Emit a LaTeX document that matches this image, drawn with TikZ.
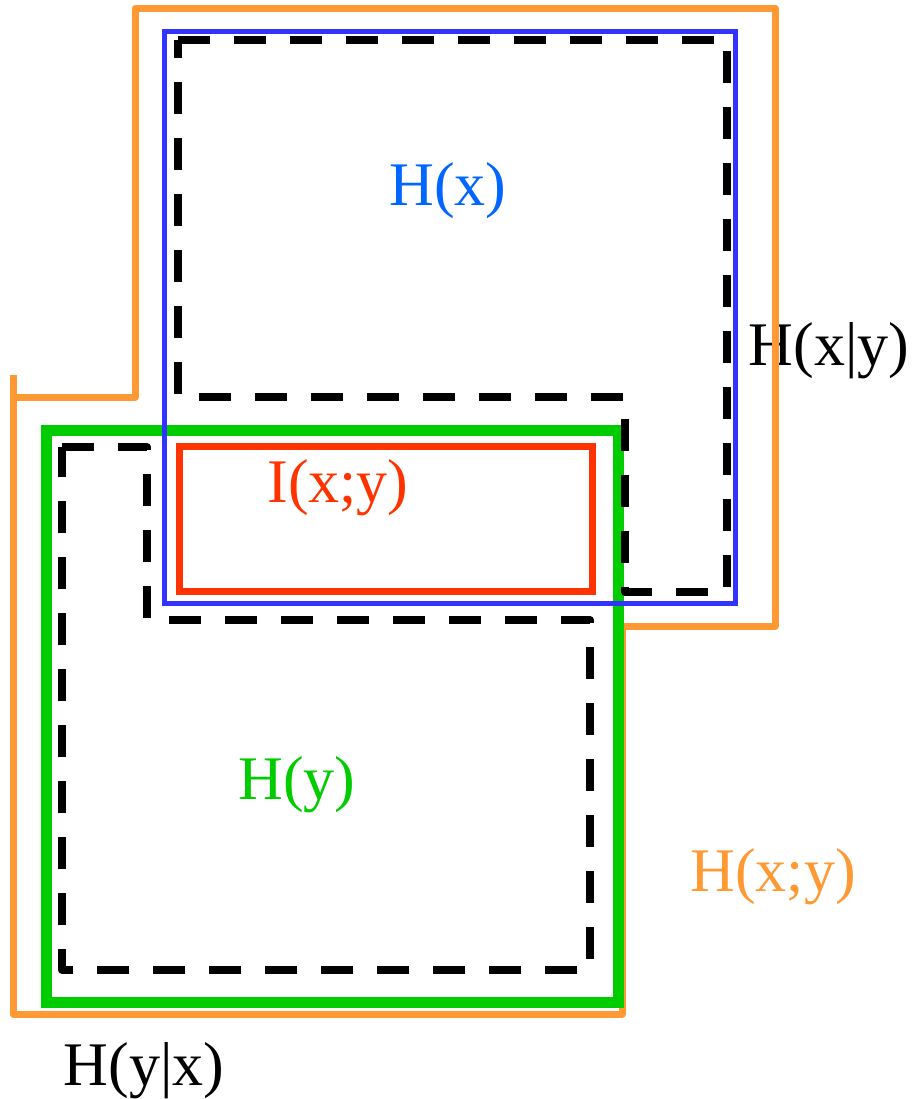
\documentclass[tikz,border=0pt]{standalone}
\usepackage{fontspec}
\setmainfont{Liberation Serif}
\usepackage{xcolor}
\usetikzlibrary{calc,positioning}
\definecolor{orangeline}{HTML}{FF9933}
\definecolor{blueline}{HTML}{3333FF}
\definecolor{bluetext}{HTML}{0066FF}
\definecolor{greenline}{HTML}{00CC00}
\definecolor{redline}{HTML}{FF3300}

\begin{document}
\begin{tikzpicture}[x=0.5pt, y=-0.5pt,
		label/.style={font=\fontsize{31}{36}\selectfont, anchor=base, inner sep=0pt},
		dashbox/.style={line width=4pt, dash pattern=on 16pt off 12pt, line join=round}]
		\useasboundingbox (0,0) rectangle (913,1099);
		% labels first, the lines go over them
		\node [label, text=bluetext] (hx) at (448,205) {H(x)};
		\node [label] (hxy) at (829,365) {H(x|y)};
		\node [label, text=redline] (ixy) at (338,502) {I(x;y)};
		\node [label, text=greenline] (hy) at (297,799) {H(y)};
		\node [label, text=orangeline] (hjoint) at (773,891) {H(x;y)};
		\node [label] (hyx) at (144,1085) {H(y|x)};
		% H(x;y)
		\draw [line width=3.5pt, orangeline, line join=round] (13,375) -- (13,1014) -- (622,1014) -- (622,626) -- (775,626) -- (775,8) -- (135,8) -- (135,397) -- (13,397);
		% H(y)
		\draw [line width=5.5pt, greenline] (46,430) rectangle (618,1002);
		% H(x)
		\draw [line width=2.5pt, blueline] (164,31) rectangle (735,603);
		% I(x;y)
		\draw [line width=3.5pt, redline] (179,446) rectangle (592,591);
		% H(x|y)
		\draw [dashbox] (178,40) -- (727,40) -- (727,592) -- (625,592) -- (625,397) -- (178,397) -- cycle;
		% H(y|x)
		\draw [dashbox] (62,447) -- (147,447) -- (147,620) -- (590,620) -- (590,970) -- (62,970) -- cycle;
	\end{tikzpicture}
\end{document}
